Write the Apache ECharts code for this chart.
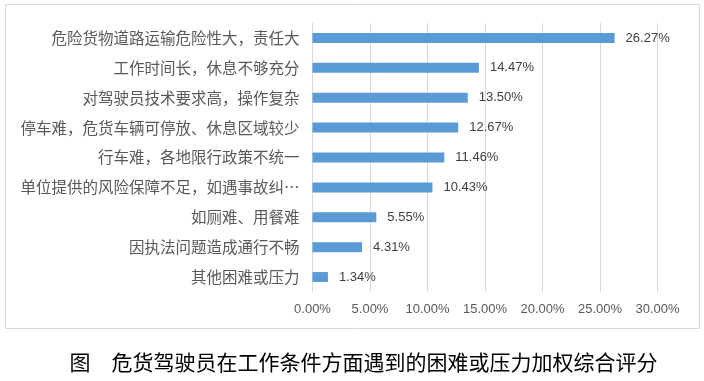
<!DOCTYPE html>
<html>
<head>
<meta charset="utf-8">
<script src="https://cdn.jsdelivr.net/npm/echarts@6/dist/echarts.min.js"></script>
<style>
html,body{margin:0;padding:0;background:#fff;}
#main{width:704px;height:381px;}
</style>
</head>
<body>
<div id="main"></div>
<script>
const categories = [
  "危险货物道路运输危险性大，责任大",
  "工作时间长，休息不够充分",
  "对驾驶员技术要求高，操作复杂",
  "停车难，危货车辆可停放、休息区域较少",
  "行车难，各地限行政策不统一",
  "单位提供的风险保障不足，如遇事故纠…",
  "如厕难、用餐难",
  "因执法问题造成通行不畅",
  "其他困难或压力"
];
const values = [26.27, 14.47, 13.50, 12.67, 11.46, 10.43, 5.55, 4.31, 1.34];
const xTicks = [0, 5, 10, 15, 20, 25, 30];
const captionText = "图　危货驾驶员在工作条件方面遇到的困难或压力加权综合评分";

const chart = echarts.init(document.getElementById('main'));
chart.setOption({
  animation: false,
  backgroundColor: '#fff',
  grid: {left: 312.5, right: 46.5, top: 23, bottom: 89, containLabel: false},
  xAxis: {
    type: 'value',
    min: xTicks[0],
    max: xTicks[xTicks.length - 1],
    interval: xTicks[1] - xTicks[0],
    axisLine: {show: false},
    axisTick: {show: false},
    splitLine: {lineStyle: {color: '#d9d9d9', width: 1}},
    axisLabel: {
      color: '#595959', fontSize: 13, fontFamily: 'Liberation Sans',
      margin: 11,
      formatter: v => v.toFixed(2) + '%'
    }
  },
  yAxis: {
    type: 'category',
    inverse: true,
    data: categories,
    axisLine: {lineStyle: {color: '#d9d9d9', width: 1}},
    axisTick: {show: false},
    axisLabel: {
      color: '#595959', fontSize: 15.5, fontFamily: '"Noto Sans CJK SC"',
      margin: 13
    }
  },
  series: [{
    type: 'bar',
    data: values,
    barWidth: 10,
    itemStyle: {color: '#5b9bd5'},
    label: {
      show: true, position: 'right', distance: 11,
      color: '#404040', fontSize: 13, fontFamily: 'Liberation Sans',
      formatter: p => p.value.toFixed(2) + '%'
    }
  }],
  graphic: [
    {type: 'rect', shape: {x: 5.5, y: 4.5, width: 694, height: 324}, style: {fill: 'none', stroke: '#d9d9d9', lineWidth: 1}, z: -1},
    {type: 'text', x: 363.5, y: 362, style: {text: captionText, fill: '#000', fontSize: 21, fontFamily: '"Noto Sans CJK SC"', align: 'center', verticalAlign: 'middle'}}
  ]
});
</script>
</body>
</html>
